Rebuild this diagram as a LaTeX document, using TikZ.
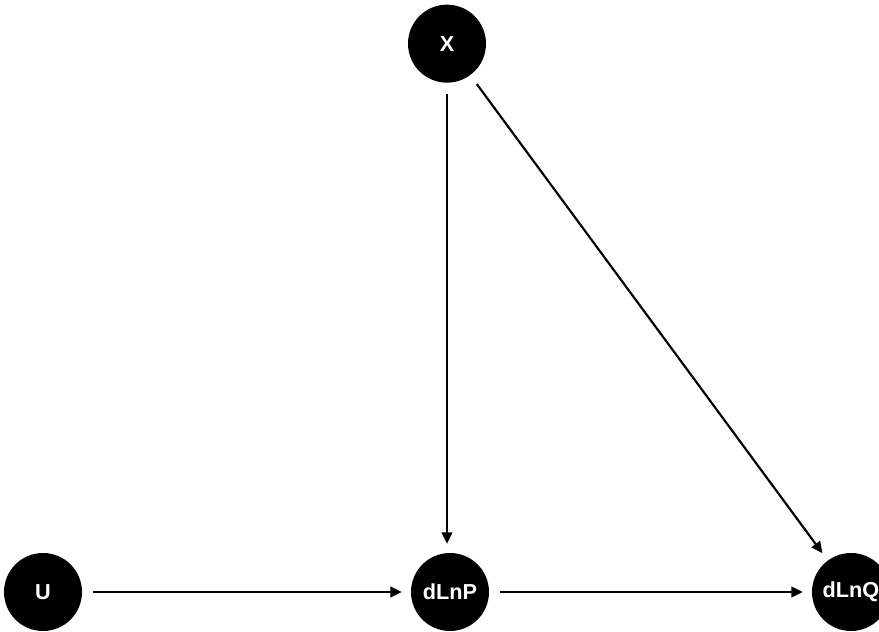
\documentclass[tikz,border=0pt]{standalone}
\usepackage{fontspec}
\setmainfont{Liberation Sans}
\usetikzlibrary{positioning, arrows.meta}
\tikzset{
  varnode/.style={
    circle, fill=black, draw=none, minimum size=2.34cm, inner sep=0pt,
    text=white, font=\fontsize{18.5}{20}\selectfont\bfseries
  },
  causearrow/.style={
    -{Triangle[length=0.34cm, width=0.32cm]}, line width=0.065cm, draw=black,
    shorten <=0.33cm, shorten >=0.27cm
  }
}
\begin{document}
\begin{tikzpicture}
    \useasboundingbox (0,0) rectangle (26.37,18.96);
    % Variables
    \node[varnode] (u) at (1.29,1.2) {U};
    \node[varnode] (dlnp) at (13.5,1.2) {dLnP};
    \node[varnode] (dlnq) at (25.53,1.2) {dLnQ};
    \node[varnode] (x) at (13.41,17.65) {X};

    % Causal arrows
    \draw[causearrow] (u) -- (dlnp);
    \draw[causearrow] (dlnp) -- (dlnq);
    \draw[causearrow] (x.south) -- (x.south |- dlnp.north);
    \draw[causearrow] (x) -- (dlnq);
\end{tikzpicture}
\end{document}
